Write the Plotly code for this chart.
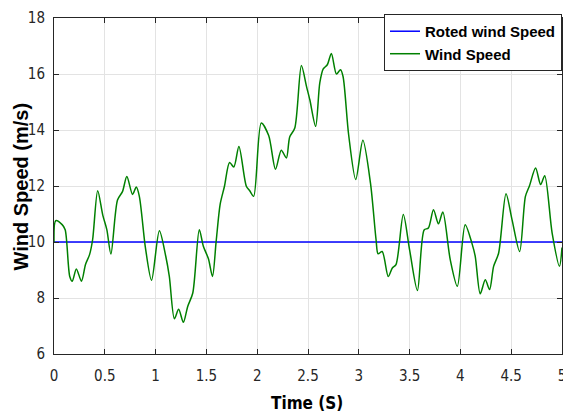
import plotly.graph_objects as go

# Time axis samples (s) and measured wind speed (m/s)
time_s = [0, 0.017, 0.08, 0.11, 0.155, 0.18, 0.22, 0.27, 0.31, 0.35, 0.38, 0.43, 0.48, 0.52,
          0.56, 0.625, 0.674, 0.717, 0.773, 0.81, 0.84, 0.9, 0.96, 1.037, 1.1, 1.135, 1.185,
          1.227, 1.273, 1.316, 1.366, 1.43, 1.47, 1.52, 1.56, 1.596, 1.636, 1.678, 1.728, 1.77,
          1.82, 1.893, 1.925, 1.965, 2.04, 2.113, 2.18, 2.237, 2.287, 2.32, 2.37, 2.435, 2.485,
          2.518, 2.575, 2.616, 2.65, 2.69, 2.73, 2.78, 2.82, 2.845, 2.9, 2.97, 3.04, 3.115,
          3.17, 3.19, 3.23, 3.29, 3.33, 3.366, 3.438, 3.5, 3.577, 3.643, 3.685, 3.735, 3.784,
          3.827, 3.9, 3.97, 4.047, 4.113, 4.146, 4.195, 4.245, 4.287, 4.327, 4.376, 4.449,
          4.508, 4.583, 4.64, 4.68, 4.74, 4.79, 4.83, 4.903, 4.975, 5.0]
wind_speed = [10.0, 10.76, 10.62, 10.44, 8.77, 8.6, 9.04, 8.6, 9.2, 9.55, 10.08, 11.83, 10.96, 10.44,
              9.57, 11.5, 11.8, 12.34, 11.7, 11.96, 11.63, 9.79, 8.63, 10.4, 9.49, 8.77, 7.26,
              7.6, 7.13, 7.7, 8.18, 10.44, 9.85, 9.4, 8.77, 10.02, 11.36, 11.99, 12.84, 12.68,
              13.41, 11.99, 11.84, 11.63, 14.25, 13.8, 12.6, 13.28, 13.0, 13.75, 14.07, 16.3, 15.56,
              15.08, 14.13, 15.68, 16.18, 16.33, 16.73, 16.0, 16.15, 15.91, 13.83, 12.23, 13.63, 12.1,
              10.08, 9.58, 9.66, 8.77, 9.07, 9.19, 10.98, 9.72, 8.27, 10.43, 10.5, 11.15, 10.65,
              11.07, 9.37, 8.42, 10.62, 9.96, 9.49, 8.15, 8.65, 8.3, 9.13, 9.6, 11.72,
              10.8, 9.66, 11.63, 12.01, 12.64, 12.05, 12.37, 10.32, 9.13, 9.8]

# Rated wind speed reference
rated_time = [0, 5]
rated_speed = [10, 10]

x_ticks = [0, 0.5, 1, 1.5, 2, 2.5, 3, 3.5, 4, 4.5, 5]
y_ticks = [6, 8, 10, 12, 14, 16, 18]

narrow = "Liberation Sans Narrow, Arial Narrow, DejaVu Sans Condensed, sans-serif"
regular = "Liberation Sans, Arial, sans-serif"
axis_color = "#262626"
grid_color = "#e3e3e3"

fig = go.Figure()
fig.add_trace(go.Scatter(
    x=rated_time, y=rated_speed, mode="lines", name="Roted wind Speed",
    line=dict(color="#0000ff", width=1.5),
))
fig.add_trace(go.Scatter(
    x=time_s, y=wind_speed, mode="lines", name="Wind Speed",
    line=dict(color="#008000", width=1.5, shape="spline", smoothing=0.8),
))

axis_common = dict(
    showgrid=True, gridcolor=grid_color, gridwidth=1,
    zeroline=False, showline=True, linecolor=axis_color, linewidth=1, mirror="ticks",
    ticks="inside", ticklen=5, tickcolor=axis_color,
    tickfont=dict(family=narrow, size=15, color=axis_color),
    ticklabeloverflow="allow",
    automargin=False,
)

fig.update_layout(
    width=563, height=414,
    margin=dict(l=54, r=1, t=18, b=60),
    paper_bgcolor="white", plot_bgcolor="white",
    showlegend=True,
    legend=dict(
        x=1.0, xanchor="right", y=1.012, yanchor="top",
        bgcolor="white", bordercolor=axis_color, borderwidth=1,
        font=dict(family=regular, size=15, color="black", weight="bold"),
        tracegroupgap=0, itemwidth=30,
    ),
    xaxis=dict(range=[0, 5], tickvals=x_ticks, ticktext=[f"{v:g}" for v in x_ticks],
               ticklabelstandoff=8, **axis_common),
    yaxis=dict(range=[6, 18], tickvals=y_ticks, ticklabelstandoff=5, **axis_common),
    annotations=[
        dict(text="<b>Time (S)</b>", xref="paper", yref="paper", x=0.499, y=-0.146,
             xanchor="center", yanchor="middle", showarrow=False,
             font=dict(family=narrow, size=17, color="black")),
        dict(text="<b>Wind Speed (m/s)</b>", xref="paper", yref="paper", x=-0.065, y=0.4985,
             xanchor="center", yanchor="middle", showarrow=False, textangle=-90,
             font=dict(family=regular, size=20, color="black")),
    ],
)

fig.write_html("out.html")
